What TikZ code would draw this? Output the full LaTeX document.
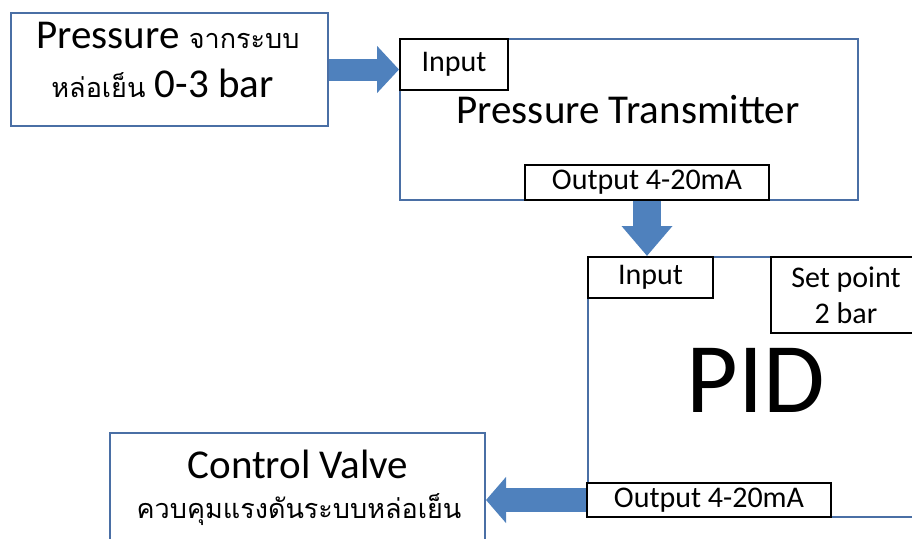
\documentclass[tikz,border=0pt]{standalone}
\usepackage{fontspec}
\setmainfont{Carlito}
\newfontfamily\thaifont[Script=Thai]{Loma}
\usetikzlibrary{arrows.meta,positioning}

\definecolor{boxblue}{HTML}{4A6FA5}
\definecolor{arrowblue}{HTML}{4F81BD}

\tikzset{
  bigbox/.style={rectangle,draw=boxblue,line width=2pt},
  portbox/.style={rectangle,draw=black,fill=white,line width=2pt,font=\fontsize{30}{36}\selectfont},
  titletext/.style={anchor=base,inner sep=0pt,font=\fontsize{41}{48}\selectfont},
  thaitext/.style={anchor=base,inner sep=0pt,font=\thaifont\fontsize{27}{32}\selectfont},
  fatarrow/.style={draw=arrowblue,line width=#1}
}

\begin{document}
\begin{tikzpicture}[x=1pt,y=-1pt]
\useasboundingbox (0,0) rectangle (912,538);
\clip (0,0) rectangle (912,538);

% Boxes
\node[bigbox,minimum width=317,minimum height=113] (src) at (169.5,69.5) {};
\node[bigbox,minimum width=458,minimum height=161] (pt) at (629,119.5) {};
\node[bigbox,minimum width=352,minimum height=260] (pid) at (764,387) {};
\node[bigbox,minimum width=375,minimum height=120] (valve) at (297.5,493) {};

% Texts
\node[titletext] (srctop) at (168,48) {Pressure {\thaifont\fontsize{27}{32}\selectfont จากระบบ}};
\node[titletext] (srcbot) at (162.5,97) {{\thaifont\fontsize{27}{32}\selectfont หล่อเย็น} 0-3 bar};
\node[titletext] (pttitle) at (628,123) {Pressure Transmitter};
\node[titletext,font=\fontsize{100}{110}\selectfont] (pidtitle) at (755.5,412) {PID};
\node[titletext] (valvetitle) at (298,478) {Control Valve};
\node[thaitext] (valvenote) at (299,518) {ควบคุมแรงดันระบบหล่อเย็น};

% Ports
\node[portbox,minimum width=108,minimum height=51] (ptin) at (454,64.5) {Input};
\node[portbox,minimum width=244,minimum height=35] (ptout) at (647,182.5) {Output 4-20mA};
\node[portbox,minimum width=125,minimum height=41] (pidin) at (650.5,277.5) {Input};
\node[portbox,minimum width=150,minimum height=76,align=center,font=\fontsize{30}{36}\selectfont] (setpoint) at (846,295) {Set point\\2 bar};
\node[portbox,minimum width=244,minimum height=34] (pidout) at (709,500) {Output 4-20mA};

% Signal flow
\draw[fatarrow=22pt,-{Triangle[length=22pt,width=46pt]}] (src.east) -- (src.east -| pt.west);
\draw[fatarrow=28pt,-{Triangle[length=30pt,width=49pt]}] (ptout.south) -- (ptout.south |- pid.north);
\draw[fatarrow=24pt,-{Triangle[length=20pt,width=45pt]}] (pidout.west) -- (pidout.west -| valve.east);
\end{tikzpicture}
\end{document}
